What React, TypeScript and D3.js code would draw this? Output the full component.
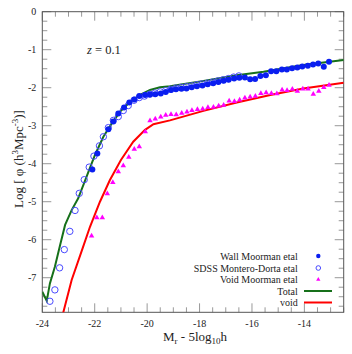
import React from 'react';
import * as d3 from 'd3';

// Wall galaxies, Moorman et al (filled circles)
const wallM = [-22.09, -21.9, -21.48, -21.29, -21.1, -20.88, -20.68, -20.49, -20.3, -20.08, -19.89, -19.69, -19.48, -19.29,
  -19.09, -18.9, -18.69, -18.5, -18.3, -18.1, -17.89, -17.69, -17.48, -17.28, -17.08, -16.89, -16.68, -16.48, -16.27,
  -16.07, -15.88, -15.68, -15.47, -15.27, -15.07, -14.86, -14.67, -14.47, -14.27, -14.08, -13.87, -13.67, -13.47, -13.26, -13.06];
const wallPhi = [-4.15, -3.73, -3.09, -2.89, -2.68, -2.52, -2.39, -2.31, -2.22, -2.19, -2.18, -2.17, -2.15, -2.11,
  -2.06, -2.04, -2.03, -2.02, -1.99, -1.96, -1.94, -1.91, -1.88, -1.85, -1.82, -1.79, -1.76, -1.74, -1.73,
  -1.78, -1.77, -1.69, -1.67, -1.57, -1.57, -1.52, -1.52, -1.49, -1.47, -1.44, -1.42, -1.39, -1.36, -1.45, -1.32];

// SDSS, Montero-Dorta et al (open circles)
const sdssM = [-23.71, -23.52, -23.34, -23.16, -22.95, -22.75, -22.59, -22.4, -22.21, -22.03, -21.82, -21.67, -21.48,
  -21.29, -21.1, -20.91, -20.72, -20.5, -20.3, -20.1, -19.9, -19.7, -19.5, -19.3, -19.1, -18.9, -18.7, -18.5, -18.3,
  -18.1, -17.9, -17.7, -17.5, -17.3, -17.1, -16.9, -16.7, -16.5];
const sdssPhi = [-7.62, -7.32, -6.74, -6.26, -5.78, -5.23, -4.78, -4.42, -4.09, -3.8, -3.53, -3.29, -3.05,
  -2.86, -2.76, -2.6, -2.47, -2.33, -2.26, -2.22, -2.17, -2.14, -2.11, -2.08, -2.04, -2.01, -1.99, -1.97, -1.95,
  -1.92, -1.9, -1.88, -1.85, -1.82, -1.79, -1.76, -1.72, -1.69];

// Void galaxies, Moorman et al (triangles)
const voidM = [-22.12, -21.92, -21.71, -21.52, -21.31, -21.1, -20.91, -20.7, -20.49, -20.3, -20.07, -19.89, -19.69,
  -19.48, -19.29, -19.09, -18.89, -18.68, -18.48, -18.29, -18.08, -17.88, -17.68, -17.47, -17.27, -17.08, -16.87,
  -16.67, -16.47, -16.27, -16.07, -15.87, -15.66, -15.46, -15.26, -15.05, -14.85, -14.66, -14.46, -14.27, -14.06,
  -13.86, -13.66, -13.45, -13.26, -13.06];
const voidPhi = [-5.9, -5.42, -5.42, -4.79, -4.49, -4.21, -4.05, -3.83, -3.62, -3.55, -3.16, -2.87, -2.82,
  -2.77, -2.72, -2.7, -2.71, -2.67, -2.64, -2.6, -2.57, -2.56, -2.52, -2.51, -2.48, -2.46, -2.35,
  -2.36, -2.32, -2.27, -2.24, -2.22, -2.15, -2.13, -2.15, -2.16, -2.06, -2.07, -2.04, -2.09, -2.03,
  -2.03, -2.17, -2.09, -1.99, -1.93];

// model curves
const totalM = [-24.0, -23.83, -23.71, -23.52, -23.32, -23.13, -22.88, -22.63, -22.31, -21.99, -21.67, -21.35, -21.03,
  -20.65, -20.27, -19.89, -19.51, -19.13, -17.85, -16.58, -15.56, -14.04, -12.5];
const totalPhi = [-7.37, -7.61, -7.15, -6.71, -6.14, -5.61, -5.22, -4.91, -4.34, -3.77, -3.29, -2.94, -2.63,
  -2.37, -2.19, -2.06, -1.99, -1.96, -1.82, -1.67, -1.58, -1.4, -1.27];
const voidCurveM = [-23.25, -22.88, -22.44, -22.18, -21.8, -21.42, -21.0, -20.53, -20.08, -19.76, -19.13, -17.85,
  -16.58, -15.3, -14.04, -12.5];
const voidCurvePhi = [-8.05, -7.06, -6.18, -5.66, -5.0, -4.43, -3.9, -3.42, -3.11, -2.96, -2.86, -2.61,
  -2.39, -2.19, -2.02, -1.87];

const xTicks = [-24, -22, -20, -18, -16, -14];
const yTicks = [0, -1, -2, -3, -4, -5, -6, -7];

const W = 352, H = 354;
const left = 42.3, right = 343.7, top = 11.7, bottom = 312.3;
const font = '"Liberation Serif", "Times New Roman", serif';

const x = d3.scaleLinear().domain([-24, -12.5]).range([left, right]);
const y = d3.scaleLinear().domain([-7.91, 0]).range([bottom, top]);

const zip = (a: number[], b: number[]) => a.map((v, i) => [v, b[i]] as [number, number]);

export default function App() {
  const line = d3.line<[number, number]>().x(d => x(d[0])).y(d => y(d[1]));
  const tri = d3.symbol(d3.symbolTriangle, 13)() as string;
  const triSmall = d3.symbol(d3.symbolTriangle, 8)() as string;

  const xMinor = d3.range(-24, -12.49, 0.5);
  const yMinor = d3.range(0, -7.91, -0.25);

  const lx1 = 304, lx2 = 332, mx = 318.3, tx = 297.7;
  const rows = [256, 268, 279.5, 291, 302.5];

  return (
    <svg width={W} height={H} style={{ position: 'absolute', left: 0, top: 0 }} fontFamily={font}>
      <rect width={W} height={H} fill="#fff" />
      <defs>
        <clipPath id="plot">
          <rect x={left} y={top} width={right - left} height={bottom - top} />
        </clipPath>
      </defs>

      {/* ticks, inward on all four sides */}
      <g stroke="#999" strokeWidth={1}>
        {xMinor.map(v => {
          const major = Math.abs(v % 2) < 1e-6;
          const len = major ? 9 : 5;
          return (
            <g key={'x' + v}>
              <line x1={x(v)} x2={x(v)} y1={bottom} y2={bottom - len} />
              <line x1={x(v)} x2={x(v)} y1={top} y2={top + len} />
            </g>
          );
        })}
        {yMinor.map(v => {
          const major = Math.abs(v % 1) < 1e-6;
          const len = major ? 9 : 5;
          return (
            <g key={'y' + v}>
              <line x1={left} x2={left + len} y1={y(v)} y2={y(v)} />
              <line x1={right} x2={right - len} y1={y(v)} y2={y(v)} />
            </g>
          );
        })}
      </g>
      <rect x={left} y={top} width={right - left} height={bottom - top} fill="none" stroke="#555" strokeWidth={1} />

      {xTicks.map(v => (
        <text key={'xl' + v} x={x(v)} y={bottom + 15} fontSize={10} textAnchor="middle" fill="#222">{v}</text>
      ))}
      {yTicks.map(v => (
        <text key={'yl' + v} x={left - 6} y={y(v) + 3.5} fontSize={10} textAnchor="end" fill="#222">{v}</text>
      ))}

      {/* axis titles */}
      <text x={195} y={341} fontSize={13} textAnchor="middle" fill="#222">
        M<tspan fontSize={9} dy={3}>r</tspan><tspan dy={-3}> - 5log</tspan><tspan fontSize={9} dy={3}>10</tspan><tspan dy={-3}>h</tspan>
      </text>
      <text transform="translate(23,159) rotate(-90)" fontSize={13} textAnchor="middle" fill="#222">
        Log [ φ (h<tspan fontSize={9} dy={-5}>3</tspan><tspan dy={5}>Mpc</tspan><tspan fontSize={9} dy={-5}>-3</tspan><tspan dy={5}>)]</tspan>
      </text>

      <text x={87} y={54} fontSize={12.5} fill="#222">
        <tspan fontStyle="italic">z</tspan> = 0.1
      </text>

      <g clipPath="url(#plot)">
        <path d={line(zip(totalM, totalPhi)) || ''} fill="none" stroke="#16701a" strokeWidth={2} />
        <path d={line(zip(voidCurveM, voidCurvePhi)) || ''} fill="none" stroke="#ff0000" strokeWidth={2} />
        {zip(voidM, voidPhi).map((d, i) => (
          <path key={'v' + i} d={tri} transform={`translate(${x(d[0])},${y(d[1])})`} fill="#ff00ff" />
        ))}
        {zip(sdssM, sdssPhi).map((d, i) => (
          <circle key={'s' + i} cx={x(d[0])} cy={y(d[1])} r={3.2} fill="none" stroke="#4a4aff" strokeWidth={1} />
        ))}
        {zip(wallM, wallPhi).map((d, i) => (
          <circle key={'w' + i} cx={x(d[0])} cy={y(d[1])} r={3} fill="#0a1ef0" />
        ))}
      </g>

      {/* legend */}
      <g fontSize={10} textAnchor="end" fill="#222">
        <text x={tx} y={rows[0] + 3.5}>Wall Moorman etal</text>
        <text x={tx} y={rows[1] + 3.5}>SDSS Montero-Dorta etal</text>
        <text x={tx} y={rows[2] + 3.5}>Void Moorman etal</text>
        <text x={tx} y={rows[3] + 3.5}>Total</text>
        <text x={tx} y={rows[4] + 3.5}>void</text>
      </g>
      <circle cx={mx} cy={rows[0]} r={2.2} fill="#0a1ef0" />
      <circle cx={mx} cy={rows[1]} r={2.3} fill="none" stroke="#4a4aff" strokeWidth={1} />
      <path d={triSmall} transform={`translate(${mx},${rows[2]})`} fill="#ff00ff" />
      <line x1={lx1} x2={lx2} y1={rows[3]} y2={rows[3]} stroke="#16701a" strokeWidth={2} />
      <line x1={lx1} x2={lx2} y1={rows[4]} y2={rows[4]} stroke="#ff0000" strokeWidth={2} />
    </svg>
  );
}
